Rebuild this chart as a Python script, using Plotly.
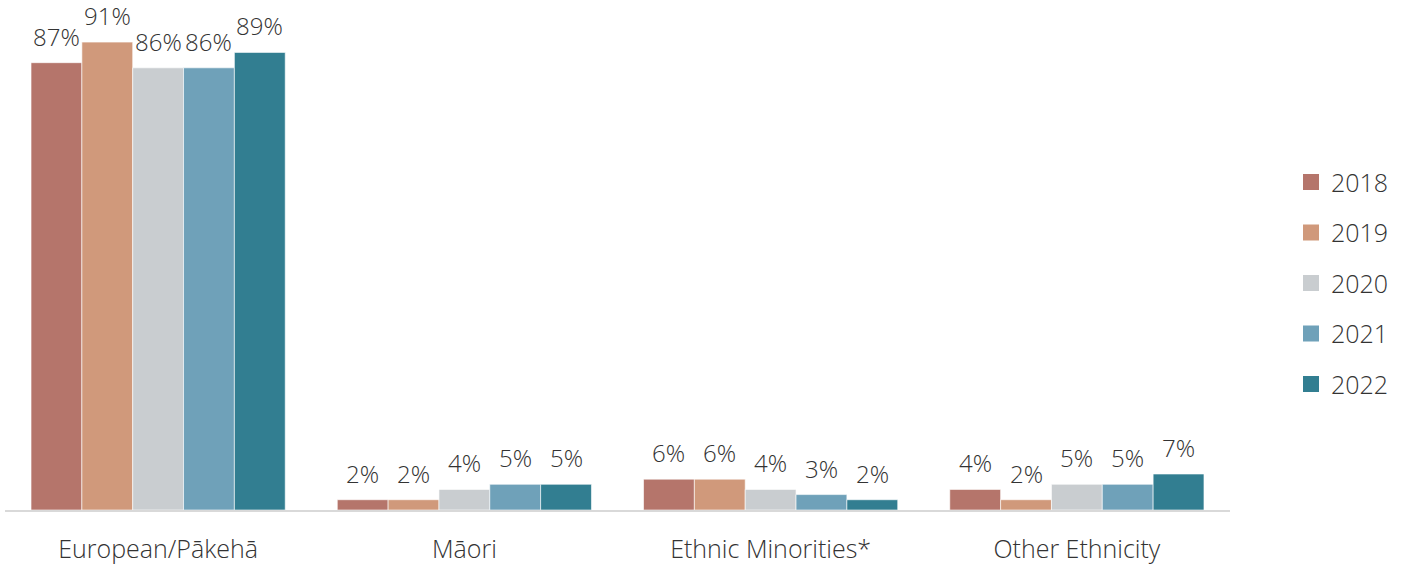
import plotly.graph_objects as go

categories = ["European/Pākehā", "Māori", "Ethnic Minorities*", "Other Ethnicity"]
years = ["2018", "2019", "2020", "2021", "2022"]
values = {
    "2018": [87, 2, 6, 4],
    "2019": [91, 2, 6, 2],
    "2020": [86, 4, 4, 5],
    "2021": [86, 5, 3, 5],
    "2022": [89, 5, 2, 7],
}
colors = {
    "2018": "#B5756B",
    "2019": "#D0997B",
    "2020": "#C9CDD0",
    "2021": "#6FA1B9",
    "2022": "#327E91",
}

FONT = "'Open Sans', Lato, sans-serif"
TXT = "#333333"
BARGAP = 0.17
n = len(years)
w = (1 - BARGAP) / n

fig = go.Figure()
for j, y in enumerate(years):
    fig.add_trace(go.Bar(
        x=categories, y=values[y], name=y, showlegend=False,
        marker=dict(color=colors[y], line=dict(color="rgba(255,255,255,0.6)", width=1)),
        hoverinfo="x+y",
    ))
    # legend entry with larger square symbol
    fig.add_trace(go.Scatter(
        x=[None], y=[None], mode="markers", name=y, legendgroup=y,
        marker=dict(symbol="square", size=18, color=colors[y]),
    ))
    # value labels above each bar
    for i, v in enumerate(values[y]):
        fig.add_annotation(
            x=i + (j - (n - 1) / 2) * w, y=v, xref="x", yref="y",
            text=f"{v}%", showarrow=False, yanchor="bottom", yshift=9,
            borderpad=0,
            font=dict(size=24, color=TXT, family=FONT, weight=300),
        )

fig.update_layout(
    barmode="group", bargap=BARGAP, bargroupgap=0,
    width=1401, height=567,
    margin=dict(l=5, r=171, t=20, b=57, autoexpand=False),
    paper_bgcolor="white", plot_bgcolor="white",
    font=dict(family=FONT, size=24, color=TXT, weight=300),
    legend=dict(x=1.0498, xanchor="left", y=0.463, yanchor="middle",
                traceorder="grouped", tracegroupgap=15, itemwidth=30,
                font=dict(size=25, color=TXT, family=FONT, weight=300)),
    xaxis=dict(showline=True, linecolor="#d9d9d9", linewidth=2, ticks="",
               tickfont=dict(size=25), ticklabelstandoff=16, showgrid=False,
               automargin=False),
    yaxis=dict(range=[0, 95.3], visible=False, showgrid=False, automargin=False),
)
fig.write_html("out.html", config={"displayModeBar": False},
               post_script="document.body.style.margin='0';")
